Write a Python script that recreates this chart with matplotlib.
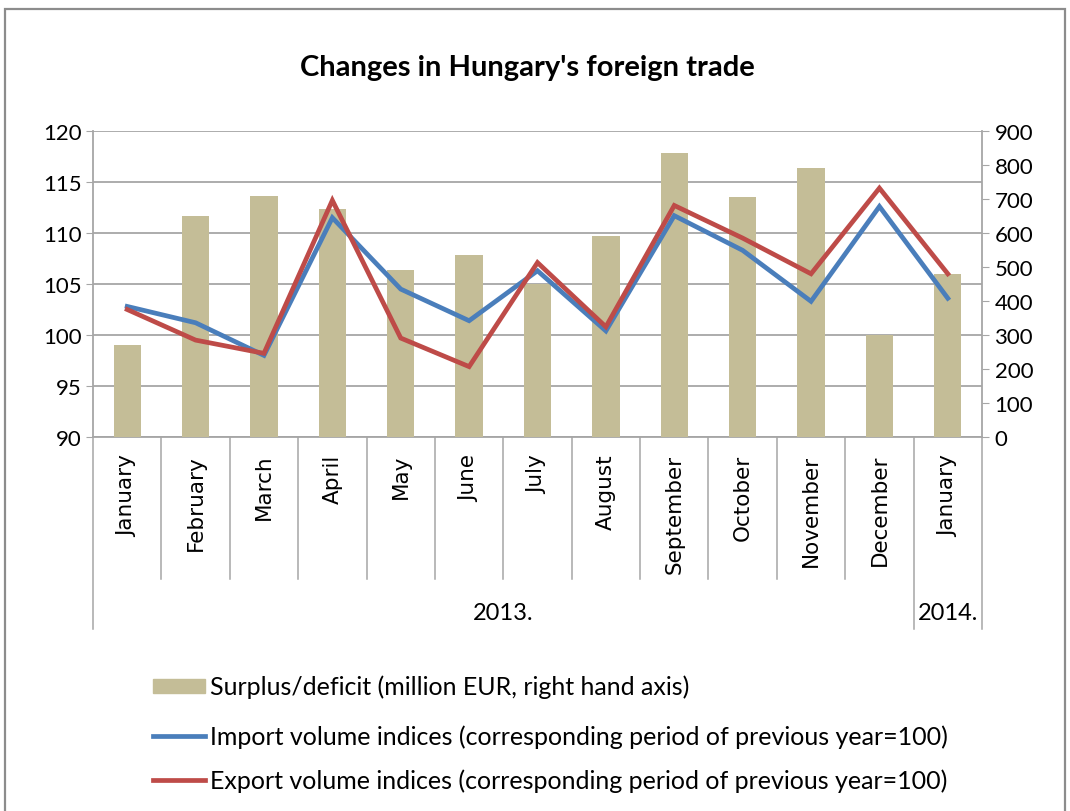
import matplotlib.pyplot as plt
from matplotlib.patches import Rectangle
import numpy as np

months = ['January', 'February', 'March', 'April', 'May', 'June', 'July',
          'August', 'September', 'October', 'November', 'December', 'January']
years = ['2013.', '2014.']
year_span = [12, 1]  # number of months in each year group

surplus = [270, 650, 710, 670, 490, 535, 450, 590, 835, 705, 790, 300, 480]
imports = [102.8, 101.2, 98.0, 111.5, 104.5, 101.4, 106.3, 100.4, 111.7, 108.3, 103.3, 112.6, 103.6]
exports = [102.5, 99.5, 98.2, 113.2, 99.7, 96.9, 107.1, 100.8, 112.7, 109.5, 106.0, 114.4, 106.0]

W, H = 1070, 812
grid_col = '#A6A6A6'
bar_col = '#C4BD97'
blue = '#4A7EBB'
red = '#BE4B48'
num_font = 'Lato'

fig = plt.figure(figsize=(W / 100, H / 100), dpi=100)
fig.patches.append(Rectangle((5 / W, -0.05), 1060 / W, 1.05 - 10 / H, transform=fig.transFigure,
                             fill=False, edgecolor='#8C8C8C', linewidth=1.6))

left, right, top, bottom = 93, 982, 132, 438
ax = fig.add_axes([left / W, 1 - bottom / H, (right - left) / W, (bottom - top) / H])
x = np.arange(len(months))

# grid layer
ax.set_ylim(90, 120)
ax.set_yticks(np.arange(90, 121, 5))
ax.set_xlim(-0.5, len(months) - 0.5)
ax.grid(axis='y', color=grid_col, linewidth=1.3)
ax.set_xticks([])
for s in ['top', 'right']:
    ax.spines[s].set_visible(False)
for s in ['left', 'bottom']:
    ax.spines[s].set_color(grid_col)
    ax.spines[s].set_linewidth(1.3)
ax.tick_params(axis='y', direction='out', length=5, color=grid_col, labelsize=16, pad=3)
for t in ax.get_yticklabels():
    t.set_fontfamily(num_font)

# bars on right axis
ax2 = ax.twinx()
ax2.bar(x, surplus, width=0.4, color=bar_col, zorder=2)
ax2.set_ylim(0, 900)
ax2.set_yticks(np.arange(0, 901, 100))
for s in ['top', 'left', 'bottom']:
    ax2.spines[s].set_visible(False)
ax2.spines['right'].set_color(grid_col)
ax2.spines['right'].set_linewidth(1.3)
ax2.tick_params(axis='y', direction='out', length=5, color=grid_col, labelsize=16, pad=4)
for t in ax2.get_yticklabels():
    t.set_fontfamily(num_font)

# lines on top
ax3 = ax.twinx()
ax3.set_ylim(90, 120)
ax3.plot(x, imports, color=blue, linewidth=3.4, solid_joinstyle='miter')
ax3.plot(x, exports, color=red, linewidth=3.4, solid_joinstyle='miter')
ax3.axis('off')

# category axis: month labels and separators
tr = ax.get_xaxis_transform()
for i, m in enumerate(months):
    ax.text(i, -0.055, m, transform=tr, rotation=90, ha='center', va='top',
            fontsize=15.5, family='DejaVu Sans', color='black')
short = -(580 - bottom) / (bottom - top)
long_ = -(630 - bottom) / (bottom - top)
bounds = np.cumsum([0] + year_span) - 0.5
for b in np.arange(-0.5, len(months)):
    y_end = long_ if b in bounds else short
    ax.plot([b, b], [0, y_end], transform=tr, color=grid_col, linewidth=1.1, clip_on=False)
for yr, a, b in zip(years, bounds[:-1], bounds[1:]):
    ax.text((a + b) / 2, -(614 - bottom) / (bottom - top), yr, transform=tr,
            ha='center', va='center', fontsize=17, family=num_font)

fig.text(527 / W, 1 - 68 / H, "Changes in Hungary's foreign trade", ha='center', va='center',
         fontsize=21, fontweight='bold', family=num_font)

# legend
leg_items = [('bar', bar_col, 'Surplus/deficit (million EUR, right hand axis)', 687),
             ('line', blue, 'Import volume indices (corresponding period of previous year=100)', 737),
             ('line', red, 'Export volume indices (corresponding period of previous year=100)', 781)]
for kind, col, label, yy in leg_items:
    yf = 1 - yy / H
    if kind == 'bar':
        fig.patches.append(Rectangle((153 / W, yf - 7 / H), 52 / W, 14 / H,
                                     transform=fig.transFigure, color=col))
    else:
        fig.lines.append(plt.Line2D([153 / W, 205 / W], [yf, yf], transform=fig.transFigure,
                                    color=col, linewidth=3.4))
    fig.text(210 / W, yf, label, ha='left', va='center', fontsize=18, family=num_font)

fig.savefig('out.png', dpi=100)
